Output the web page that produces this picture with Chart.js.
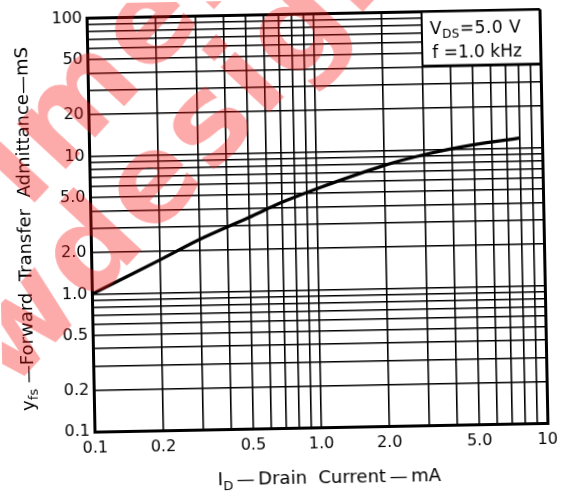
<!DOCTYPE html>
<html>
<head>
<meta charset="utf-8">
<script src="https://cdn.jsdelivr.net/npm/chart.js@4.4.1/dist/chart.umd.min.js"></script>
<style>
html,body{margin:0;padding:0;background:#fff;overflow:hidden;}
#wrap{width:564px;height:495px;position:relative;transform:rotate(-1.1deg);}
</style>
</head>
<body>
<div id="wrap"><canvas id="chart"></canvas></div>
<script>
// I_D (mA) vs |yfs| (mS)
const drainCurrent = [0.1, 0.2, 0.3, 0.5, 0.7, 1.0, 2.0, 3.0, 5.0, 8.0];
const admittance   = [1.0, 1.73, 2.4, 3.42, 4.35, 5.4, 7.8, 9.2, 10.7, 11.8];

const xTickVals = [0.1, 0.2, 0.5, 1, 2, 5, 10];
const xTickText = ['0.1', '0.2', '0.5', '1.0', '2.0', '5.0', '10'];
const yTickVals = [0.1, 0.2, 0.5, 1, 2, 5, 10, 20, 50, 100];
const yTickText = ['0.1', '0.2', '0.5', '1.0', '2.0', '5.0', '10', '20', '50', '100'];

const FONT = '"DejaVu Sans", sans-serif';

// 1..9 in every decade between min and max -> grid lines like log paper
function logGrid(min, max){
    const out = [];
    for(let e = Math.floor(Math.log10(min)); e <= Math.ceil(Math.log10(max)); e++){
        for(let m = 1; m <= 9; m++){
            const v = +(m * Math.pow(10, e)).toPrecision(6);
            if(v >= min * 0.999 && v <= max * 1.001) out.push(v);
        }
    }
    return out;
}
function labelFor(vals, texts){
    return v => { const i = vals.findIndex(t => Math.abs(t - v) < t * 1e-6); return i < 0 ? '' : texts[i]; };
}
function edgeWidth(min, max){
    return c => {
        const v = c.tick ? c.tick.value : 0;
        return (Math.abs(v - min) < min * 1e-6 || Math.abs(v - max) < max * 1e-6) ? 3 : 1.6;
    };
}

// text made of runs: [text, size, baseline shift]
function runsWidth(ctx, parts){
    let w = 0;
    parts.forEach(p => { ctx.font = p[1] + 'px ' + FONT; w += ctx.measureText(p[0]).width; });
    return w;
}
function drawRuns(ctx, parts, x, y, center){
    let cx = center ? x - runsWidth(ctx, parts) / 2 : x;
    parts.forEach(p => {
        ctx.font = p[1] + 'px ' + FONT;
        ctx.fillText(p[0], cx, y + p[2]);
        cx += ctx.measureText(p[0]).width;
    });
}

const annotations = {
    id: 'annotations',
    afterDraw(chart){
        const ctx = chart.ctx, a = chart.chartArea;
        ctx.save();
        ctx.fillStyle = '#000';
        ctx.textBaseline = 'alphabetic';
        ctx.textAlign = 'left';

        // condition box, top right corner of the plot
        const bx = a.right - 118, by = a.top, bw = 118, bh = 54;
        ctx.fillStyle = '#fff';
        ctx.fillRect(bx, by, bw, bh);
        ctx.strokeStyle = '#000';
        ctx.lineWidth = 2;
        ctx.strokeRect(bx, by, bw, bh);
        ctx.fillStyle = '#000';
        ctx.letterSpacing = '0.5px';
        drawRuns(ctx, [['V', 17, 0], ['DS', 12, 4], ['=5.0 V', 17, 0]], bx + 8, by + 22.5, false);
        ctx.letterSpacing = '0px';
        drawRuns(ctx, [['f =1.0 kHz', 17, 0]], bx + 10, by + 46, false);

        // x title
        drawRuns(ctx, [['I', 18, 0], ['D', 13, 5], ['\u2009—\u2009Drain  Current\u2009—\u2009mA', 18, 0]], 325, 484, true);

        // y title
        ctx.save();
        ctx.translate(31, 224);
        ctx.rotate(-Math.PI / 2);
        drawRuns(ctx, [['y', 18, 0], ['fs', 13, 4], [' —Forward  Transfer  Admittance—mS', 18, 0]], 0, 0, true);
        ctx.restore();

        // red scan watermark
        ctx.fillStyle = 'rgba(250,20,20,0.36)';
        ctx.font = 'bold 122px ' + FONT;
        ctx.textBaseline = 'middle';
        const ang = -46 * Math.PI / 180;
        ctx.save();
        ctx.translate(97, 248);
        ctx.rotate(ang);
        ctx.letterSpacing = '4px';
        let off = ctx.measureText('w').width + ctx.measureText('d').width / 2;
        ctx.fillText('wdesign', -off, 0);
        ctx.restore();
        ctx.save();
        ctx.translate(83, 103);
        ctx.rotate(ang);
        ctx.letterSpacing = '4px';
        off = ctx.measureText('i').width + ctx.measureText('m').width / 2;
        ctx.fillText('imer', -off, 0);
        ctx.restore();

        ctx.restore();
    }
};

new Chart(document.getElementById('chart'), {
    type: 'line',
    data: {
        datasets: [{
            data: drainCurrent.map((x, i) => ({x: x, y: admittance[i]})),
            borderColor: '#000',
            borderWidth: 3.2,
            pointRadius: 0,
            fill: false,
            tension: 0.3
        }]
    },
    options: {
        responsive: true,
        maintainAspectRatio: false,
        animation: false,
        layout: {padding: {top: 14, right: 20, left: 0, bottom: 0}},
        plugins: {legend: {display: false}, tooltip: {enabled: false}},
        scales: {
            x: {
                type: 'logarithmic',
                min: 0.1, max: 10,
                afterBuildTicks: s => { s.ticks = logGrid(0.1, 10).map(v => ({value: v})); },
                afterFit: s => { s.height = 66.7; },
                grid: {color: '#000', lineWidth: edgeWidth(0.1, 10), drawTicks: false},
                border: {display: true, color: '#000', width: 3},
                ticks: {
                    autoSkip: false, maxRotation: 0, minRotation: 0, padding: 7,
                    color: '#000', font: {family: FONT, size: 16},
                    callback: labelFor(xTickVals, xTickText)
                }
            },
            y: {
                type: 'logarithmic',
                min: 0.1, max: 100,
                afterBuildTicks: s => { s.ticks = logGrid(0.1, 100).map(v => ({value: v})); },
                afterFit: s => { s.width = 91.5; },
                grid: {color: '#000', lineWidth: edgeWidth(0.1, 100), drawTicks: false},
                border: {display: true, color: '#000', width: 3},
                ticks: {
                    autoSkip: false, padding: 5,
                    color: '#000', font: {family: FONT, size: 16},
                    callback: labelFor(yTickVals, yTickText)
                }
            }
        }
    },
    plugins: [annotations]
});
</script>
</body>
</html>
